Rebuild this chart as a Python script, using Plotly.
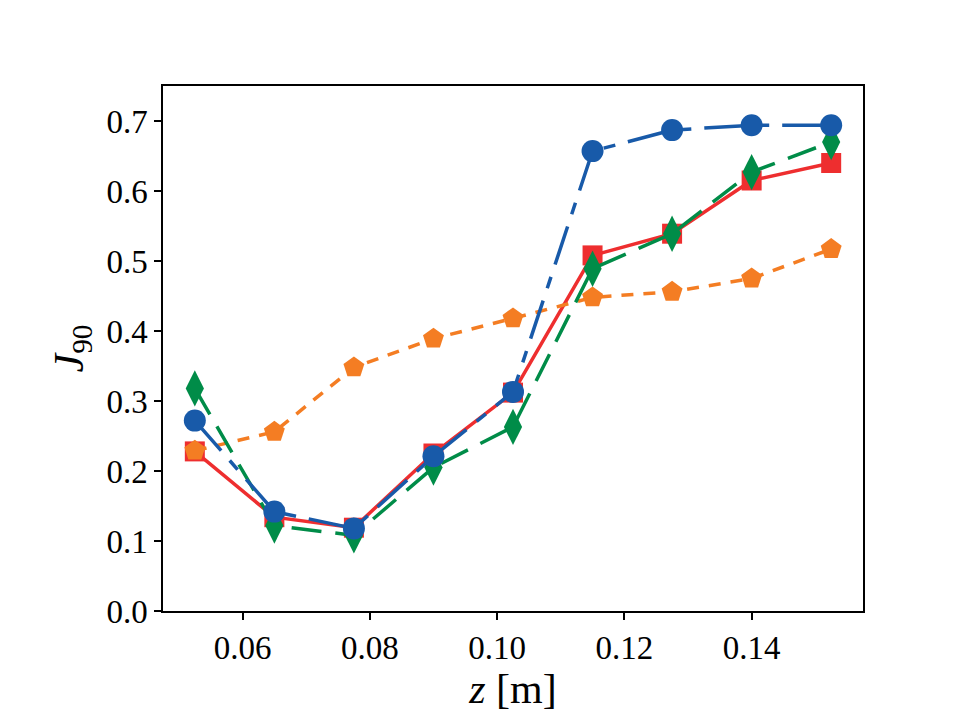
import plotly.graph_objects as go

z = [0.0525, 0.065, 0.0775, 0.09, 0.1025, 0.115, 0.1275, 0.14, 0.1525]
red_vals = [0.228, 0.134, 0.119, 0.225, 0.312, 0.508, 0.539, 0.615, 0.640]
orange_vals = [0.229, 0.256, 0.348, 0.389, 0.418, 0.448, 0.456, 0.475, 0.517]
green_vals = [0.318, 0.122, 0.108, 0.205, 0.263, 0.489, 0.539, 0.627, 0.670]
blue_vals = [0.272, 0.142, 0.118, 0.221, 0.313, 0.657, 0.687, 0.694, 0.694]

x_ticks = [0.06, 0.08, 0.10, 0.12, 0.14]
y_ticks = [0.0, 0.1, 0.2, 0.3, 0.4, 0.5, 0.6, 0.7]

series = [
    (red_vals, "#EE2E2F", "solid", "square", 20),
    (orange_vals, "#F47D23", "12px,10px", "pentagon", 22),
    (green_vals, "#008C48", "30px,14px", "diamond-tall", 26),
    (blue_vals, "#185AA9", "40px,13px,12px,13px", "circle", 22),
]

fig = go.Figure()
for vals, color, dash, sym, size in series:
    fig.add_trace(go.Scatter(
        x=z, y=vals, mode="lines+markers",
        line=dict(color=color, width=3.5, dash=dash),
        marker=dict(symbol=sym, size=size, color=color, line=dict(width=0)),
        showlegend=False,
    ))

font_family = "Liberation Serif"
fig.update_layout(
    width=960, height=720,
    margin=dict(l=163, r=97, t=86, b=109),
    paper_bgcolor="white", plot_bgcolor="white",
    font=dict(family=font_family, color="black"),
)
fig.update_xaxes(
    range=[0.0475, 0.1575],
    tickvals=x_ticks, ticktext=[f"{v:.2f}" for v in x_ticks],
    ticks="outside", ticklen=7, tickwidth=1.5, tickcolor="black",
    showline=True, linecolor="black", linewidth=1.5, mirror=True,
    showgrid=False, zeroline=False,
    tickfont=dict(size=33, family=font_family),
    title=dict(text="<i>z</i> [m]", font=dict(size=42, family=font_family), standoff=8),
)
fig.update_yaxes(
    range=[0.0, 0.75],
    tickvals=y_ticks, ticktext=[f"{v:.1f}" for v in y_ticks],
    ticks="outside", ticklen=7, tickwidth=1.5, tickcolor="black",
    showline=True, linecolor="black", linewidth=1.5, mirror=True,
    showgrid=False, zeroline=False,
    tickfont=dict(size=33, family=font_family),
    title=dict(text="<i>J</i><sub>90</sub>", font=dict(size=42, family=font_family), standoff=10),
)

fig.write_html("out.html")
